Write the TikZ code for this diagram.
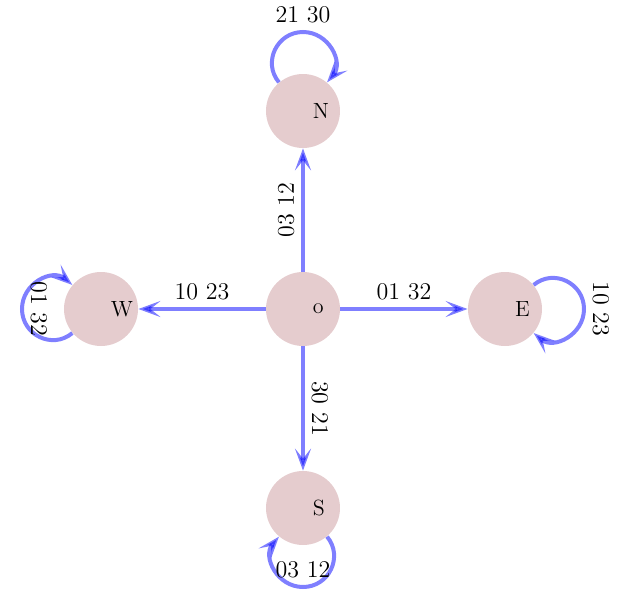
\documentclass[tikz,border=0pt]{standalone}
\usetikzlibrary{arrows.meta}
\definecolor{spotfill}{RGB}{229,204,206}
\tikzset{
    spot/.style={circle, fill=spotfill, minimum size=37pt, inner sep=0pt},
    spotname/.style={xshift=10pt, text width=10pt, align=left, font=\fontsize{11}{13}\selectfont},
    move/.style={draw=blue, line width=2pt, opacity=0.5,
        -{Stealth[length=11pt, width=8pt, inset=5pt]},
        every node/.append style={opacity=1, font=\large}},
}
\begin{document}
\begin{tikzpicture}
    \useasboundingbox (-151.5pt, -146pt) rectangle (164.5pt, 154.5pt);

    \node[spot, label={[spotname]center:o}] (o) at (0pt, 0pt) {};
    \node[spot, label={[spotname]center:N}] (N) at (0pt, 99pt) {};
    \node[spot, label={[spotname]center:S}] (S) at (0pt, -99.5pt) {};
    \node[spot, label={[spotname]center:E}] (E) at (101pt, 0pt) {};
    \node[spot, label={[spotname]center:W}] (W) at (-101pt, 0pt) {};

    \coordinate (Ntop) at ([yshift=39.5pt]N.center);
    \coordinate (Etop) at ([xshift=39.5pt]E.center);
    \coordinate (Stop) at ([yshift=-39.5pt]S.center);
    \coordinate (Wtop) at ([xshift=-39.5pt]W.center);

    \draw[move] (o) -- node[above, sloped]{03 12} (N);
    \draw[move] (o) -- node[above, sloped]{01 32} (E);
    \draw[move] (o) -- node[above, sloped]{30 21} (S);
    \draw[move] (o) -- node[above, sloped]{10 23} (W);

    \draw[move] (N) to[out=130, in=180, distance=13pt] (Ntop) node[anchor=south]{21 30}
        to[out=0, in=50, distance=13pt] (N);
    \draw[move] (E) to[out=40, in=90, distance=13pt] (Etop) node[rotate=-90, anchor=south]{10 23}
        to[out=-90, in=-40, distance=13pt] (E);
    \draw[move] (S) to[out=-50, in=0, distance=13pt] (Stop) node[anchor=south]{03 12}
        to[out=180, in=-130, distance=13pt] (S);
    \draw[move] (W) to[out=-140, in=-90, distance=13pt] (Wtop) node[rotate=-90, anchor=south]{01 32}
        to[out=90, in=140, distance=13pt] (W);
\end{tikzpicture}
\end{document}
